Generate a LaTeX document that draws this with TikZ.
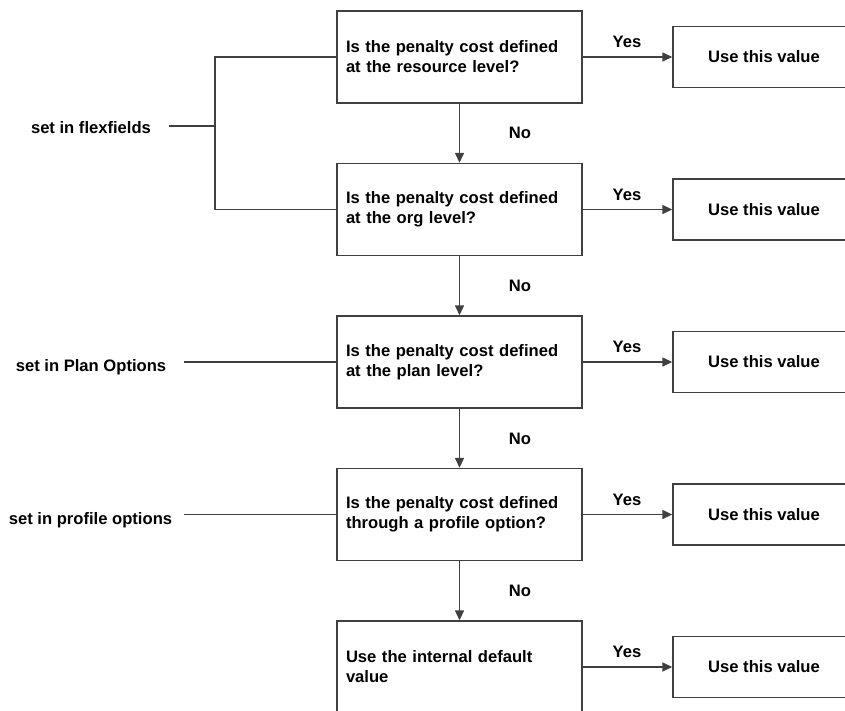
\documentclass[tikz,border=0pt]{standalone}
\usepackage{fontspec}
\setmainfont{Liberation Sans}
\usetikzlibrary{arrows.meta}
\begin{document}
\begin{tikzpicture}[x=1pt,y=-1pt,
  every node/.style={font=\fontsize{16.6}{20}\selectfont\bfseries},
  qbox/.style={draw=black!75, line width=1.4pt, minimum width=245pt, minimum height=92pt,
    text width=227pt, inner xsep=9pt, align=left},
  vbox/.style={draw=black!75, line width=1.4pt, minimum width=182pt, minimum height=61pt, align=center},
  conn/.style={draw=black!75, line width=1.4pt},
  arr/.style={conn, -{Triangle[length=10pt,width=9pt]}},
  lbl/.style={inner sep=0pt}
]
\useasboundingbox (0,0) rectangle (845,710);
\clip (0,0) rectangle (845,710);
\fill[white] (0,0) rectangle (845,710);

\node[qbox] (b1) at (459.5,57) {Is the penalty cost defined\\at the resource level?};
\node[qbox] (b2) at (459.5,209.5) {Is the penalty cost defined\\at the org level?};
\node[qbox] (b3) at (459.5,362) {Is the penalty cost defined\\at the plan level?};
\node[qbox] (b4) at (459.5,514.5) {Is the penalty cost defined\\through a profile option?};
\node[qbox] (b5) at (459.5,667) {Use the internal default\\value};

\foreach \i/\y in {1/57,2/209.5,3/362,4/514.5,5/667}{
  \node[vbox] (v\i) at (764,\y) {Use this value};
  \draw[arr] (b\i.east) -- (v\i.west);
  \node[lbl] (yes\i) at (627,\y-15) {Yes};
}

\foreach \a/\b/\y in {1/2/133,2/3/286,3/4/439,4/5/591}{
  \draw[arr] (b\a.south) -- (b\b.north);
  \node[lbl] (no\a) at (520,\y) {No};
}

% left annotations
\node[lbl] (ff) at (91,128) {set in flexfields};
\coordinate (ffe) at (169,126);
\coordinate (j) at (215,126);
\draw[conn] (b1.west) -- (215,57) -- (215,209.5) -- (b2.west);
\draw[conn] (ffe) -- (j);

\node[lbl] (po) at (91,367) {set in Plan Options};
\coordinate (poe) at (184,362);
\draw[conn] (poe) -- (b3.west);

\node[lbl] (pr) at (90.5,520) {set in profile options};
\coordinate (pre) at (184,514.5);
\draw[conn] (pre) -- (b4.west);
\end{tikzpicture}
\end{document}
